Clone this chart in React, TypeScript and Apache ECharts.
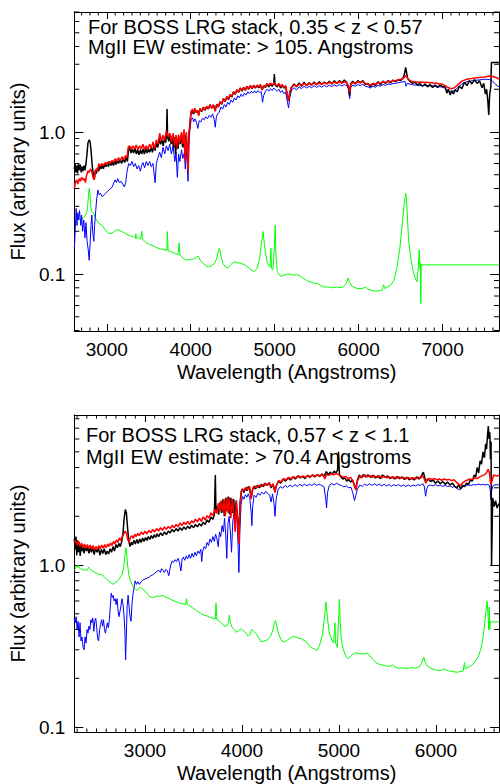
import React, { useEffect, useRef } from "react";
import * as echarts from "echarts";

const FONT = '"Liberation Sans", Arial, Helvetica, sans-serif';

// ---------- tick values ----------
const topXMajor = [3000, 4000, 5000, 6000, 7000];
const botXMajor = [3000, 4000, 5000, 6000];
const yMajor = [0.1, 1];
const yMinor = [0.04, 0.05, 0.06, 0.07, 0.08, 0.09, 0.2, 0.3, 0.4, 0.5, 0.6, 0.7, 0.8, 0.9, 2, 3, 4, 5, 6, 7, 8, 9];

// ---------- texts ----------
const topTitle = ["For BOSS LRG stack, 0.35 < z < 0.57", "MgII EW estimate: > 105. Angstroms"];
const botTitle = ["For BOSS LRG stack, 0.57 < z < 1.1", "MgII EW estimate: > 70.4 Angstroms"];
const xName = "Wavelength (Angstroms)";
const yName = "Flux (arbitrary units)";

// ---------- top panel data [wavelength, flux] ----------
const topBlack = [
  [2613,0.55],[2622,0.60],[2632,0.52],[2642,0.58],[2652,0.51],[2662,0.60],[2672,0.54],[2684,0.59],[2695,0.52],[2706,0.57],[2717,0.53],[2728,0.58],[2740,0.54],[2752,0.60],[2764,0.70],[2776,0.84],[2790,0.88],[2802,0.85],[2814,0.72],[2826,0.58],[2840,0.50],[2852,0.47],[2864,0.54],[2876,0.51],[2890,0.56],[2904,0.53],[2918,0.58],[2932,0.55],[2946,0.59],[2960,0.55],[2975,0.60],[2990,0.57],[3005,0.61],[3020,0.57],[3035,0.62],[3050,0.58],[3065,0.62],[3080,0.58],[3095,0.63],[3110,0.59],[3125,0.64],[3140,0.60],[3158,0.64],[3176,0.60],[3194,0.65],[3212,0.61],[3230,0.66],[3245,0.62],[3258,0.74],[3272,0.78],[3288,0.71],[3304,0.76],[3320,0.71],[3336,0.77],[3352,0.70],[3368,0.75],[3384,0.69],[3400,0.75],[3416,0.70],[3432,0.76],[3448,0.70],[3464,0.77],[3480,0.71],[3496,0.76],[3512,0.72],[3528,0.78],[3544,0.72],[3560,0.80],[3576,0.74],[3592,0.84],[3608,0.78],[3624,0.90],[3640,0.82],[3656,0.88],[3672,0.80],[3688,0.92],[3702,0.84],[3712,1.00],[3718,1.45],[3724,0.92],[3738,0.86],[3752,0.96],[3766,0.82],[3780,0.94],[3794,0.78],[3808,0.92],[3820,0.70],[3834,0.90],[3848,0.76],[3862,0.92],[3876,0.82],[3890,0.96],[3904,0.78],[3918,0.98],[3932,0.66],[3944,0.96],[3956,0.74],[3966,0.62],[3976,0.96],[3986,1.05],
  [4000,1.32],[4012,1.42],[4024,1.36],[4036,1.34],[4050,1.46],[4065,1.37],[4080,1.42],[4095,1.32],[4110,1.46],[4130,1.39],[4150,1.49],[4170,1.42],[4190,1.51],[4210,1.45],[4230,1.56],[4250,1.47],[4270,1.55],[4290,1.42],[4310,1.57],[4330,1.50],[4350,1.63],[4370,1.57],[4390,1.72],[4410,1.64],[4430,1.77],[4450,1.69],[4470,1.84],[4490,1.76],[4510,1.92],[4530,1.84],[4550,1.98],[4570,1.90],[4590,2.04],[4610,1.94],[4630,2.06],[4650,1.96],[4670,2.10],[4690,2.00],[4710,2.12],[4730,2.02],[4750,2.12],[4770,2.04],[4790,2.12],[4810,2.05],[4830,2.14],[4850,1.98],[4870,2.12],[4890,2.06],[4910,2.18],[4930,2.08],[4950,2.18],[4970,2.10],[4988,2.18],[4996,2.56],[5004,2.15],[5030,2.08],[5050,2.18],[5070,2.04],[5090,2.14],[5110,2.04],[5130,2.10],[5150,1.82],[5165,1.66],
  [5180,1.88],[5200,2.05],[5230,2.18],[5260,2.08],[5290,2.22],[5320,2.10],[5350,2.24],[5380,2.12],[5410,2.22],[5440,2.14],[5470,2.25],[5500,2.15],[5530,2.26],[5560,2.16],[5590,2.25],[5620,2.18],[5650,2.28],[5680,2.18],[5710,2.30],[5740,2.20],[5770,2.30],[5800,2.22],[5830,2.32],[5860,2.22],[5880,2.05],[5893,1.80],[5905,2.18],[5930,2.28],[5960,2.18],[5990,2.30],[6020,2.22],[6050,2.30],[6080,2.16],[6110,2.20],[6140,2.08],[6170,2.20],[6200,2.12],[6230,2.26],[6260,2.15],[6290,2.28],[6320,2.20],[6350,2.30],[6380,2.22],[6410,2.32],[6440,2.26],[6470,2.34],[6500,2.30],[6530,2.40],[6545,2.55],[6560,2.85],[6572,2.60],[6585,2.38],[6610,2.28],[6640,2.20],[6670,2.24],[6700,2.14],[6730,2.20],[6760,2.10],[6790,2.18],[6820,2.08],[6850,2.16],[6880,2.06],[6910,2.14],[6940,2.06],[6970,2.15],[7000,2.08],[7030,2.10],[7050,1.88],[7070,2.00],[7090,1.82],[7110,1.95],[7130,1.85],[7150,1.98],[7175,1.92],[7200,2.10],[7230,2.02],[7260,2.24],[7290,2.12],[7320,2.30],[7350,2.18],[7380,2.34],[7410,2.20],[7440,2.30],[7470,2.05],[7490,2.20],[7510,1.85],[7525,2.00],[7540,1.62],[7550,1.32],[7560,1.80],[7575,2.10],[7582,3.09],[7672,3.09]
];

const topRed = [
  [2613,0.40],[2625,0.44],[2640,0.46],[2655,0.43],[2670,0.47],[2685,0.45],[2700,0.48],[2715,0.46],[2730,0.47],[2745,0.44],[2760,0.50],[2775,0.53],[2790,0.52],[2805,0.55],[2820,0.53],[2835,0.48],[2850,0.46],[2862,0.52],[2875,0.55],[2890,0.53],[2905,0.60],[2920,0.57],[2940,0.60],[2960,0.58],[2980,0.61],[3000,0.59],[3020,0.62],[3040,0.60],[3060,0.63],[3080,0.61],[3100,0.65],[3120,0.62],[3140,0.66],[3160,0.63],[3180,0.67],[3200,0.64],[3220,0.68],[3240,0.66],[3255,0.78],[3270,0.80],[3290,0.76],[3310,0.80],[3330,0.76],[3350,0.81],[3370,0.75],[3390,0.80],[3410,0.76],[3430,0.82],[3450,0.75],[3470,0.80],[3490,0.76],[3510,0.82],[3530,0.77],[3550,0.85],[3570,0.76],[3590,0.88],[3610,0.82],[3630,0.98],[3650,0.86],[3670,0.95],[3690,0.88],[3710,1.02],[3730,0.92],[3750,0.98],[3770,0.85],[3790,0.98],[3810,0.80],[3825,0.95],[3840,0.78],[3855,0.96],[3870,0.84],[3890,1.00],[3905,0.82],[3920,1.05],[3934,0.62],[3948,1.00],[3960,0.75],[3970,0.52],[3978,0.98],[3990,1.15],
  [4005,1.40],[4020,1.45],[4035,1.36],[4050,1.47],[4065,1.38],[4080,1.42],[4095,1.30],[4110,1.46],[4130,1.40],[4150,1.50],[4170,1.44],[4190,1.52],[4210,1.46],[4230,1.55],[4250,1.48],[4270,1.56],[4290,1.40],[4310,1.56],[4330,1.52],[4350,1.64],[4370,1.58],[4390,1.72],[4410,1.65],[4430,1.78],[4450,1.70],[4470,1.84],[4490,1.78],[4510,1.92],[4530,1.86],[4550,1.98],[4570,1.92],[4590,2.04],[4610,1.96],[4630,2.06],[4650,1.98],[4670,2.10],[4690,2.02],[4710,2.12],[4730,2.04],[4750,2.14],[4770,2.06],[4790,2.14],[4810,2.08],[4830,2.16],[4850,1.98],[4870,2.12],[4890,2.10],[4910,2.20],[4930,2.12],[4950,2.22],[4970,2.14],[4990,2.22],[5010,2.16],[5030,2.12],[5050,2.20],[5070,2.08],[5090,2.16],[5110,2.06],[5130,2.12],[5150,1.82],[5165,1.65],[5180,1.92],
  [5200,2.08],[5230,2.15],[5260,2.10],[5290,2.18],[5320,2.12],[5350,2.20],[5380,2.14],[5410,2.20],[5440,2.15],[5470,2.22],[5500,2.16],[5530,2.22],[5560,2.17],[5590,2.23],[5620,2.18],[5650,2.24],[5680,2.19],[5710,2.25],[5740,2.20],[5770,2.26],[5800,2.21],[5830,2.26],[5860,2.22],[5880,2.10],[5893,1.90],[5905,2.15],[5930,2.24],[5960,2.20],[5990,2.26],[6020,2.22],[6050,2.27],[6080,2.20],[6110,2.18],[6140,2.14],[6170,2.20],[6200,2.17],[6230,2.23],[6260,2.20],[6290,2.26],[6320,2.23],[6350,2.28],[6380,2.26],[6410,2.30],[6440,2.30],[6470,2.33],[6500,2.35],[6530,2.38],[6550,2.45],[6565,2.50],[6580,2.40],[6600,2.32],[6630,2.28],[6660,2.26],[6690,2.25],[6720,2.24],[6750,2.25],[6780,2.23],[6810,2.24],[6840,2.22],[6870,2.23],[6900,2.20],[6930,2.21],[6960,2.18],[6990,2.18],[7020,2.14],[7050,2.08],[7080,2.04],[7110,2.02],[7140,2.05],[7170,2.12],[7200,2.20],[7230,2.28],[7260,2.32],[7290,2.35],[7320,2.37],[7350,2.38],[7380,2.40],[7410,2.41],[7440,2.42],[7470,2.43],[7500,2.44],[7530,2.46],[7560,2.48],[7590,2.47],[7620,2.44],[7650,2.40],[7672,2.36]
];

const topBlue = [
  [2613,0.15],[2625,0.21],[2635,0.29],[2645,0.22],[2655,0.27],[2665,0.24],[2675,0.28],[2690,0.22],[2700,0.26],[2712,0.20],[2725,0.24],[2740,0.18],[2752,0.23],[2765,0.17],[2778,0.15],[2790,0.125],[2800,0.16],[2812,0.22],[2822,0.26],[2832,0.20],[2845,0.17],[2855,0.22],[2868,0.28],[2880,0.34],[2895,0.39],[2910,0.36],[2925,0.37],[2945,0.35],[2965,0.36],[2985,0.37],[3005,0.38],[3025,0.39],[3045,0.40],[3065,0.41],[3085,0.44],[3100,0.46],[3115,0.44],[3130,0.47],[3150,0.44],[3170,0.45],[3190,0.43],[3210,0.41],[3225,0.44],[3240,0.52],[3260,0.60],[3280,0.58],[3300,0.62],[3320,0.57],[3340,0.60],[3360,0.55],[3380,0.58],[3400,0.53],[3415,0.58],[3430,0.61],[3450,0.56],[3470,0.62],[3490,0.58],[3510,0.62],[3530,0.57],[3550,0.60],[3565,0.50],[3575,0.44],[3590,0.60],[3610,0.66],[3630,0.72],[3650,0.66],[3670,0.78],[3690,0.70],[3710,0.80],[3730,0.74],[3750,0.82],[3770,0.70],[3790,0.80],[3810,0.62],[3825,0.72],[3840,0.48],[3855,0.70],[3870,0.62],[3890,0.75],[3905,0.65],[3925,0.72],[3935,0.55],[3948,0.73],[3958,0.60],[3968,0.45],[3978,0.80],[3990,1.05],
  [4005,1.22],[4020,1.26],[4035,1.18],[4050,1.24],[4070,1.16],[4085,1.06],[4100,1.20],[4120,1.18],[4140,1.25],[4160,1.22],[4180,1.28],[4200,1.24],[4220,1.31],[4240,1.27],[4260,1.34],[4280,1.22],[4292,1.08],[4305,1.28],[4320,1.34],
  [4340,1.38],[4360,1.50],[4380,1.45],[4400,1.56],[4420,1.50],[4440,1.62],[4460,1.56],[4480,1.68],[4500,1.62],[4520,1.74],[4540,1.68],[4560,1.80],[4580,1.74],[4600,1.85],[4620,1.78],[4640,1.88],[4660,1.82],[4680,1.92],[4700,1.86],[4720,1.94],[4740,1.88],[4760,1.95],[4780,1.88],[4800,1.96],[4820,1.90],[4840,1.92],[4855,1.62],[4868,1.80],[4890,1.94],[4910,2.00],[4930,1.94],[4950,2.02],[4970,1.96],[4990,2.04],[5010,1.98],[5030,1.94],[5050,2.00],[5070,1.90],[5090,1.96],[5110,1.86],[5130,1.92],[5150,1.65],[5165,1.48],[5180,1.75],
  [5200,1.96],[5230,2.05],[5260,1.98],[5290,2.08],[5320,2.02],[5350,2.10],[5380,2.04],[5410,2.10],[5440,2.05],[5470,2.12],[5500,2.06],[5530,2.12],[5560,2.07],[5590,2.13],[5620,2.08],[5650,2.14],[5680,2.09],[5710,2.15],[5740,2.10],[5770,2.16],[5800,2.11],[5830,2.16],[5860,2.12],[5880,2.00],[5893,1.72],[5905,2.05],[5930,2.14],[5960,2.10],[5990,2.16],[6020,2.12],[6050,2.17],[6080,2.10],[6110,2.08],[6140,2.04],[6170,2.10],[6200,2.07],[6230,2.13],[6260,2.10],[6290,2.16],[6320,2.13],[6350,2.18],[6380,2.16],[6410,2.20],[6440,2.20],[6470,2.22],[6500,2.24],[6530,2.26],[6550,2.28],[6565,2.10],[6580,2.20],[6600,2.18],[6630,2.16],[6660,2.14],[6690,2.14],[6720,2.12],[6750,2.13],[6780,2.12],[6810,2.13],[6840,2.11],[6870,2.12],[6900,2.10],[6930,2.11],[6960,2.08],[6990,2.08],[7020,2.04],[7050,1.98],[7080,1.94],[7110,1.93],[7140,1.96],[7170,2.03],[7200,2.10],[7230,2.18],[7260,2.22],[7290,2.26],[7320,2.28],[7350,2.29],[7380,2.31],[7410,2.32],[7440,2.33],[7470,2.34],[7500,2.35],[7530,2.35],[7560,2.34],[7590,2.30],[7620,2.20],[7650,2.12],[7672,2.08]
];

const topGreen = [
  [2704,0.24],[2720,0.25],[2740,0.255],[2760,0.27],[2772,0.30],[2782,0.36],[2790,0.40],[2798,0.37],[2808,0.30],[2820,0.275],[2842,0.268],[2870,0.245],[2901,0.228],[2941,0.221],[2980,0.205],[3020,0.194],[3050,0.193],[3080,0.198],[3110,0.204],[3139,0.205],[3170,0.200],[3200,0.196],[3240,0.190],[3280,0.186],[3320,0.183],[3340,0.179],[3346,0.192],[3352,0.179],[3380,0.180],[3405,0.176],[3418,0.200],[3425,0.177],[3450,0.170],[3480,0.165],[3510,0.161],[3534,0.160],[3570,0.156],[3600,0.153],[3640,0.150],[3680,0.149],[3715,0.146],[3722,0.199],[3730,0.146],[3760,0.144],[3790,0.141],[3820,0.139],[3850,0.137],[3862,0.166],[3872,0.136],[3890,0.133],[3910,0.129],[3948,0.125],[3975,0.126],[4000,0.127],[4040,0.128],[4070,0.131],[4087,0.134],[4110,0.126],[4150,0.118],[4205,0.112],[4240,0.114],[4280,0.118],[4310,0.128],[4330,0.145],[4343,0.152],[4360,0.134],[4385,0.118],[4420,0.112],[4442,0.110],[4480,0.117],[4518,0.122],[4560,0.120],[4600,0.119],[4640,0.116],[4680,0.112],[4720,0.107],[4758,0.104],[4790,0.110],[4820,0.128],[4845,0.170],[4862,0.199],[4878,0.160],[4900,0.130],[4916,0.119],[4945,0.112],[4955,0.152],[4962,0.109],[4979,0.107],[4995,0.150],[5006,0.221],[5014,0.140],[5030,0.104],[5074,0.096],[5110,0.098],[5150,0.100],[5172,0.100],[5220,0.098],[5260,0.099],[5291,0.098],[5330,0.094],[5380,0.090],[5421,0.088],[5470,0.086],[5509,0.086],[5550,0.083],[5590,0.081],[5640,0.081],[5690,0.080],[5740,0.081],[5790,0.080],[5830,0.082],[5855,0.086],[5875,0.094],[5892,0.088],[5920,0.082],[5982,0.079],[6040,0.079],[6081,0.081],[6110,0.078],[6176,0.076],[6230,0.076],[6280,0.077],[6298,0.084],[6310,0.079],[6377,0.083],[6420,0.090],[6457,0.112],[6490,0.150],[6516,0.215],[6540,0.30],[6555,0.35],[6562,0.37],[6572,0.32],[6595,0.174],[6625,0.125],[6654,0.101],[6694,0.088],[6710,0.110],[6716,0.130],[6721,0.148],[6727,0.118],[6733,0.108],[6737,0.120],[6741,0.062],[6745,0.116],[7672,0.116]
];

// ---------- bottom panel data [wavelength, flux] ----------
const botBlack = [
  [2271,1.45],[2280,1.25],[2288,1.50],[2296,1.15],[2305,1.42],[2314,1.20],[2322,1.38],[2332,1.14],[2342,1.35],[2352,1.22],[2362,1.30],[2372,1.18],[2385,1.32],[2398,1.22],[2410,1.30],[2422,1.18],[2435,1.28],[2448,1.20],[2460,1.30],[2475,1.16],[2490,1.26],[2505,1.20],[2520,1.28],[2535,1.15],[2550,1.25],[2565,1.18],[2580,1.26],[2595,1.16],[2610,1.22],[2625,1.17],[2640,1.26],[2655,1.20],[2670,1.30],[2685,1.22],[2700,1.34],[2715,1.28],[2730,1.36],[2745,1.30],[2760,1.40],[2772,1.55],[2785,1.95],[2797,2.20],[2808,2.10],[2820,1.70],[2832,1.42],[2845,1.30],[2858,1.38],[2870,1.33],[2885,1.42],[2900,1.35],[2915,1.44],[2930,1.36],[2945,1.45],[2960,1.38],[2975,1.47],[2990,1.40],[3005,1.48],[3020,1.42],[3035,1.50],[3050,1.44],[3065,1.52],[3080,1.46],[3095,1.54],[3110,1.48],[3125,1.56],[3140,1.50],[3160,1.58],[3180,1.52],[3200,1.60],[3220,1.54],[3240,1.62],[3260,1.58],[3280,1.66],[3300,1.60],[3320,1.68],[3340,1.62],[3360,1.70],[3380,1.64],[3400,1.72],[3420,1.66],[3440,1.74],[3460,1.68],[3480,1.76],[3500,1.70],[3520,1.78],[3540,1.72],[3560,1.80],[3580,1.74],[3600,1.84],[3620,1.78],[3640,1.90],[3660,1.84],[3680,1.98],[3700,1.92],[3715,2.05],[3725,3.60],[3732,2.10],[3745,2.30],[3760,2.05],[3775,2.45],[3790,2.10],[3805,2.55],[3818,2.00],[3832,2.60],[3845,2.15],[3858,2.65],[3872,2.05],[3885,2.60],[3900,2.10],[3915,2.55],[3928,1.75],[3940,2.50],[3955,1.95],[3968,1.55],[3980,2.40],[3992,2.85],
  [4005,2.95],[4020,2.80],[4035,3.00],[4050,2.88],[4065,3.05],[4080,2.92],[4095,2.60],[4105,2.85],[4120,3.05],[4140,2.95],[4160,3.10],[4180,3.00],[4200,3.15],[4220,3.05],[4240,3.20],[4260,3.10],[4280,3.22],[4300,3.00],[4320,3.15],[4340,2.85],[4355,3.10],[4375,3.30],[4400,3.20],[4425,3.40],[4450,3.30],[4475,3.45],[4500,3.35],[4525,3.50],[4550,3.40],[4575,3.55],[4600,3.45],[4625,3.52],[4650,3.42],[4675,3.58],[4700,3.48],[4725,3.60],[4750,3.50],[4775,3.62],[4800,3.52],[4825,3.65],[4850,3.55],[4870,3.78],[4890,3.60],[4910,3.75],[4930,3.62],[4950,3.80],[4970,3.70],[4985,3.85],[4995,5.00],[5005,3.60],[5020,3.50],[5040,3.40],[5060,3.45],[5080,3.30],[5100,3.38],[5120,3.25],[5140,3.35],[5160,3.10],[5175,2.95],[5190,3.35],[5210,3.60],[5230,3.45],[5250,3.62],[5275,3.50],[5300,3.60],[5325,3.48],[5350,3.58],[5375,3.45],[5400,3.55],[5425,3.42],[5450,3.60],[5475,3.48],[5500,3.55],[5525,3.42],[5550,3.50],[5575,3.40],[5600,3.52],[5625,3.42],[5650,3.50],[5675,3.38],[5700,3.48],[5725,3.36],[5750,3.45],[5775,3.35],[5800,3.50],[5825,3.40],[5850,3.55],[5870,3.75],[5885,3.45],[5900,3.30],[5920,3.40],[5945,3.28],[5970,3.35],[5995,3.20],[6020,3.30],[6045,3.18],[6070,3.28],[6095,3.15],[6120,3.25],[6145,3.12],[6170,3.20],[6195,3.05],[6215,3.00],[6235,3.12],[6255,2.95],[6275,3.10],[6295,3.05],[6315,3.20],[6335,3.15],[6355,3.35],[6375,3.30],[6395,3.60],[6410,3.50],[6425,4.00],[6440,3.70],[6455,4.40],[6470,4.20],[6485,5.00],[6500,4.60],[6512,5.60],[6522,5.20],[6532,6.40],[6540,7.20],[6548,6.00],[6555,6.60],[6562,4.50],[6568,5.80],[6573,1.00],[6580,1.00],[6585,2.60],[6600,2.30],[6615,2.50],[6630,2.25],[6650,2.40]
];

const botRed = [
  [2271,1.38],[2285,1.42],[2300,1.33],[2315,1.40],[2330,1.30],[2345,1.37],[2360,1.28],[2375,1.35],[2390,1.27],[2405,1.34],[2420,1.26],[2435,1.33],[2450,1.25],[2465,1.32],[2480,1.24],[2495,1.30],[2510,1.25],[2525,1.32],[2540,1.26],[2555,1.33],[2570,1.27],[2585,1.34],[2600,1.28],[2615,1.35],[2630,1.30],[2645,1.37],[2660,1.32],[2675,1.40],[2690,1.35],[2705,1.43],[2720,1.38],[2735,1.47],[2750,1.42],[2765,1.50],[2780,1.55],[2795,1.62],[2808,1.58],[2820,1.45],[2835,1.38],[2850,1.48],[2865,1.52],[2880,1.46],[2895,1.55],[2910,1.50],[2925,1.57],[2940,1.52],[2960,1.60],[2980,1.54],[3000,1.62],[3020,1.56],[3040,1.64],[3060,1.58],[3080,1.66],[3100,1.60],[3120,1.68],[3140,1.62],[3160,1.70],[3180,1.64],[3200,1.72],[3220,1.66],[3240,1.73],[3260,1.68],[3280,1.76],[3300,1.70],[3320,1.78],[3340,1.72],[3360,1.82],[3380,1.75],[3400,1.84],[3420,1.78],[3440,1.86],[3460,1.78],[3480,1.88],[3500,1.82],[3520,1.92],[3540,1.85],[3560,1.95],[3580,1.86],[3600,1.98],[3620,1.90],[3640,2.02],[3660,1.95],[3680,2.10],[3700,2.02],[3720,2.20],[3740,2.08],[3755,2.40],[3770,2.15],[3785,2.50],[3800,2.12],[3815,2.55],[3828,2.00],[3842,2.60],[3856,2.10],[3870,2.62],[3885,1.95],[3900,2.55],[3915,2.10],[3930,1.60],[3942,2.50],[3955,1.85],[3968,1.35],[3980,2.30],[3992,2.80],
  [4005,2.95],[4020,2.88],[4040,3.02],[4060,2.92],[4080,3.05],[4095,2.55],[4110,2.95],[4130,3.08],[4155,3.00],[4180,3.12],[4205,3.05],[4230,3.18],[4255,3.10],[4280,3.22],[4300,3.05],[4320,3.18],[4340,2.80],[4355,3.10],[4380,3.32],[4405,3.25],[4430,3.42],[4455,3.35],[4480,3.48],[4505,3.40],[4530,3.52],[4555,3.44],[4580,3.56],[4605,3.48],[4630,3.55],[4655,3.46],[4680,3.58],[4705,3.50],[4730,3.60],[4755,3.52],[4780,3.62],[4805,3.55],[4830,3.64],[4855,3.40],[4870,3.62],[4895,3.58],[4920,3.66],[4945,3.60],[4970,3.68],[4995,3.62],[5020,3.55],[5045,3.48],[5070,3.52],[5095,3.42],[5120,3.48],[5145,3.30],[5160,3.05],[5175,2.90],[5190,3.30],[5215,3.55],[5240,3.48],[5265,3.60],[5290,3.50],[5315,3.58],[5340,3.48],[5365,3.56],[5390,3.46],[5415,3.55],[5440,3.45],[5465,3.54],[5490,3.46],[5515,3.52],[5540,3.44],[5565,3.50],[5590,3.42],[5615,3.50],[5640,3.44],[5665,3.48],[5690,3.40],[5715,3.48],[5740,3.40],[5765,3.46],[5790,3.40],[5815,3.48],[5840,3.44],[5865,3.55],[5880,3.40],[5895,3.20],[5910,3.38],[5935,3.42],[5960,3.38],[5985,3.42],[6010,3.36],[6035,3.40],[6060,3.34],[6085,3.40],[6110,3.35],[6135,3.38],[6160,3.32],[6185,3.36],[6210,3.25],[6235,3.15],[6255,3.10],[6275,3.22],[6300,3.30],[6325,3.35],[6350,3.40],[6375,3.38],[6400,3.45],[6425,3.42],[6450,3.50],[6475,3.55],[6500,3.62],[6520,3.70],[6538,3.90],[6550,3.75],[6565,3.15],[6578,3.30],[6595,3.60],[6620,3.55],[6650,3.58]
];

const botBlue = [
  [2271,0.46],[2280,0.44],[2290,0.48],[2300,0.40],[2310,0.45],[2320,0.36],[2330,0.44],[2340,0.34],[2350,0.36],[2362,0.31],[2372,0.30],[2382,0.36],[2392,0.33],[2402,0.40],[2412,0.38],[2422,0.42],[2432,0.40],[2442,0.46],[2452,0.44],[2462,0.47],[2472,0.39],[2482,0.45],[2492,0.47],[2502,0.41],[2512,0.35],[2522,0.34],[2532,0.40],[2542,0.43],[2552,0.46],[2562,0.42],[2572,0.46],[2582,0.40],[2592,0.38],[2602,0.41],[2612,0.44],[2622,0.41],[2632,0.46],[2642,0.55],[2652,0.67],[2662,0.63],[2672,0.65],[2682,0.60],[2692,0.62],[2702,0.57],[2712,0.62],[2722,0.52],[2732,0.48],[2742,0.52],[2752,0.56],[2762,0.62],[2772,0.58],[2782,0.50],[2792,0.40],[2800,0.26],[2808,0.38],[2816,0.56],[2826,0.65],[2836,0.55],[2846,0.48],[2856,0.45],[2866,0.58],[2876,0.66],[2886,0.72],[2898,0.80],[2912,0.76],[2925,0.79],[2940,0.76],[2960,0.79],[2980,0.81],[3000,0.82],[3020,0.83],[3040,0.84],[3060,0.86],[3080,0.87],[3100,0.89],[3120,0.91],[3140,0.93],[3160,0.90],[3170,0.95],[3185,0.93],[3200,0.90],[3215,0.94],[3230,0.92],[3245,0.86],[3255,0.93],[3265,1.00],[3280,1.06],[3295,1.04],[3310,1.08],[3325,1.05],[3340,1.10],[3355,1.04],[3370,0.92],[3382,1.08],[3395,1.12],[3410,1.07],[3425,1.14],[3440,1.09],[3455,1.16],[3470,1.10],[3485,1.18],[3500,1.12],[3515,1.20],[3530,1.14],[3545,1.22],[3560,1.18],[3575,1.25],[3585,1.05],[3595,1.22],[3610,1.30],[3625,1.26],[3640,1.38],[3655,1.32],[3670,1.45],[3685,1.38],[3700,1.50],[3715,1.40],[3728,1.55],[3742,1.45],[3755,1.30],[3768,1.60],[3780,1.50],[3795,1.75],[3808,1.60],[3820,1.95],[3832,1.55],[3843,1.10],[3855,1.80],[3868,2.00],[3880,1.60],[3892,1.20],[3905,1.85],[3918,2.10],[3930,1.70],[3945,2.15],[3958,1.40],[3968,0.90],[3978,1.60],[3990,2.35],
  [4005,2.65],[4020,2.55],[4035,2.72],[4050,2.62],[4065,2.75],[4080,2.60],[4095,2.10],[4102,1.75],[4110,2.30],[4125,2.70],[4145,2.62],[4165,2.78],[4185,2.70],[4205,2.82],[4225,2.74],[4245,2.85],[4265,2.76],[4285,2.70],[4300,2.45],[4315,2.75],[4330,2.40],[4340,2.00],[4352,2.55],[4370,2.90],[4395,3.05],[4420,2.98],[4445,3.10],[4470,3.02],[4495,3.12],[4520,3.04],[4545,3.14],[4570,3.06],[4595,3.15],[4620,3.08],[4645,3.16],[4670,3.08],[4695,3.16],[4720,3.10],[4745,3.18],[4770,3.10],[4795,3.16],[4820,3.10],[4845,3.05],[4862,2.60],[4872,2.25],[4882,2.80],[4900,3.10],[4925,3.18],[4950,3.12],[4975,3.20],[5000,3.14],[5025,3.10],[5050,3.04],[5075,3.08],[5100,3.00],[5125,3.02],[5145,2.75],[5160,2.50],[5175,2.70],[5190,2.95],[5215,3.12],[5240,3.06],[5265,3.16],[5290,3.10],[5315,3.18],[5340,3.10],[5365,3.18],[5390,3.10],[5415,3.16],[5440,3.08],[5465,3.15],[5490,3.08],[5515,3.14],[5540,3.06],[5565,3.14],[5590,3.08],[5615,3.14],[5640,3.06],[5665,3.12],[5690,3.06],[5715,3.12],[5740,3.06],[5765,3.12],[5790,3.08],[5815,3.14],[5840,3.10],[5865,3.18],[5880,3.05],[5893,2.66],[5905,2.95],[5920,3.10],[5945,3.12],[5970,3.08],[5995,3.14],[6020,3.08],[6045,3.12],[6070,3.06],[6095,3.10],[6120,3.05],[6145,3.08],[6170,3.02],[6195,3.06],[6220,2.95],[6245,2.92],[6265,3.00],[6290,3.08],[6315,3.10],[6340,3.12],[6365,3.10],[6390,3.14],[6415,3.12],[6440,3.16],[6465,3.12],[6490,3.15],[6515,3.12],[6535,3.15],[6550,3.10],[6560,2.90],[6566,2.53],[6575,2.90],[6590,3.10],[6620,3.14],[6650,3.12]
];

const botGreen = [
  [2271,0.93],[2282,0.95],[2292,0.99],[2300,0.97],[2312,1.00],[2320,0.96],[2335,0.95],[2350,0.94],[2365,0.93],[2380,0.94],[2395,0.92],[2410,0.95],[2420,0.97],[2430,0.95],[2445,0.93],[2460,0.92],[2480,0.90],[2500,0.89],[2520,0.88],[2540,0.87],[2556,0.88],[2575,0.85],[2600,0.82],[2625,0.80],[2645,0.78],[2660,0.77],[2675,0.76],[2690,0.78],[2710,0.79],[2730,0.81],[2750,0.85],[2765,0.88],[2780,0.97],[2792,1.15],[2802,1.28],[2810,1.18],[2820,1.00],[2835,0.86],[2850,0.80],[2865,0.76],[2880,0.73],[2900,0.71],[2920,0.70],[2940,0.72],[2955,0.73],[2975,0.71],[3000,0.69],[3025,0.66],[3050,0.64],[3075,0.63],[3100,0.635],[3125,0.645],[3150,0.64],[3175,0.65],[3200,0.64],[3225,0.63],[3250,0.62],[3275,0.61],[3300,0.60],[3320,0.595],[3345,0.585],[3370,0.58],[3400,0.575],[3420,0.57],[3428,0.62],[3436,0.57],[3460,0.56],[3490,0.545],[3520,0.53],[3550,0.515],[3580,0.50],[3610,0.49],[3640,0.485],[3670,0.475],[3700,0.47],[3725,0.465],[3732,0.58],[3740,0.46],[3770,0.45],[3800,0.43],[3820,0.42],[3840,0.42],[3860,0.44],[3870,0.49],[3880,0.44],[3900,0.41],[3920,0.40],[3940,0.385],[3960,0.39],[3990,0.405],[4010,0.395],[4040,0.38],[4060,0.365],[4080,0.37],[4100,0.40],[4120,0.39],[4150,0.375],[4180,0.35],[4200,0.335],[4230,0.34],[4260,0.345],[4290,0.36],[4315,0.39],[4335,0.44],[4345,0.455],[4360,0.42],[4380,0.37],[4410,0.34],[4440,0.335],[4470,0.345],[4500,0.355],[4525,0.362],[4550,0.36],[4575,0.355],[4600,0.352],[4630,0.345],[4655,0.34],[4680,0.325],[4710,0.31],[4740,0.305],[4770,0.296],[4800,0.32],[4830,0.37],[4850,0.47],[4865,0.59],[4880,0.48],[4900,0.38],[4925,0.345],[4945,0.33],[4958,0.44],[4966,0.33],[4983,0.31],[4995,0.45],[5005,0.615],[5012,0.45],[5025,0.34],[5045,0.30],[5070,0.275],[5090,0.265],[5110,0.27],[5140,0.28],[5170,0.288],[5200,0.285],[5230,0.283],[5260,0.282],[5290,0.287],[5320,0.275],[5350,0.262],[5380,0.25],[5410,0.245],[5440,0.242],[5470,0.24],[5500,0.238],[5530,0.237],[5550,0.242],[5575,0.236],[5600,0.232],[5630,0.231],[5660,0.232],[5690,0.23],[5720,0.231],[5750,0.233],[5780,0.231],[5810,0.233],[5840,0.24],[5860,0.255],[5875,0.27],[5890,0.25],[5910,0.238],[5940,0.232],[5970,0.228],[6000,0.225],[6030,0.223],[6060,0.224],[6085,0.229],[6100,0.226],[6130,0.222],[6160,0.221],[6190,0.219],[6220,0.218],[6250,0.22],[6280,0.222],[6295,0.25],[6302,0.228],[6320,0.232],[6345,0.237],[6370,0.24],[6395,0.25],[6420,0.262],[6440,0.275],[6460,0.30],[6480,0.34],[6500,0.42],[6515,0.52],[6528,0.60],[6538,0.48],[6545,0.40],[6550,0.55],[6555,0.40],[6560,0.446],[6650,0.446]
];

// ---------- layout ----------
const panels = [
  {
    grid: { left: 72, top: 12, width: 427, height: 319 },
    xRange: [2613, 7672], yRange: [0.0397, 7.0], xMajor: topXMajor,
    title: topTitle, titleX: 88, titleY: [27, 47],
    lines: [topGreen, topBlue, topBlack, topRed],
  },
  {
    grid: { left: 72, top: 415, width: 427, height: 318 },
    xRange: [2271, 6650], yRange: [0.0932, 8.44], xMajor: botXMajor,
    title: botTitle, titleX: 86, titleY: [434.5, 456.5],
    lines: [botGreen, botBlue, botBlack, botRed],
  },
];
const lineColors = ["#00ff00", "#0000ff", "#000000", "#ff0000"];
const lineWidths = [1, 1, 1.5, 1.5];

function xMinors(min: number, max: number) {
  const out: number[] = [];
  for (let v = Math.ceil(min / 100) * 100; v <= max; v += 100) if (v % 1000 !== 0) out.push(v);
  return out;
}

const TICK = { stroke: "#000", lineWidth: 1 };

function xTickSeries(xi: number, yi: number, vals: number[], y0: number, len: number) {
  return {
    type: "custom", xAxisIndex: xi, yAxisIndex: yi, silent: true, clip: false, z: 5,
    data: vals.map((v) => [v, y0]),
    renderItem: (params: any, api: any) => {
      const cs = params.coordSys;
      const p = api.coord([api.value(0), api.value(1)]);
      const b = cs.y + cs.height;
      return {
        type: "group",
        children: [
          { type: "line", shape: { x1: p[0], y1: b, x2: p[0], y2: b - len }, style: TICK },
          { type: "line", shape: { x1: p[0], y1: cs.y, x2: p[0], y2: cs.y + len }, style: TICK },
        ],
      };
    },
  };
}

function yTickSeries(xi: number, yi: number, vals: number[], x0: number, len: number) {
  return {
    type: "custom", xAxisIndex: xi, yAxisIndex: yi, silent: true, clip: false, z: 5,
    data: vals.map((v) => [x0, v]),
    renderItem: (params: any, api: any) => {
      const cs = params.coordSys;
      const p = api.coord([api.value(0), api.value(1)]);
      const r = cs.x + cs.width;
      return {
        type: "group",
        children: [
          { type: "line", shape: { x1: cs.x, y1: p[1], x2: cs.x + len, y2: p[1] }, style: TICK },
          { type: "line", shape: { x1: r, y1: p[1], x2: r - len, y2: p[1] }, style: TICK },
        ],
      };
    },
  };
}

function buildOption() {
  const grid: any[] = [];
  const xAxis: any[] = [];
  const yAxis: any[] = [];
  const series: any[] = [];
  const graphic: any[] = [];
  const tickStyle = { color: "#000", width: 1 };
  panels.forEach((p, gi) => {
    grid.push({ ...p.grid, containLabel: false });
    const xb = { type: "value", gridIndex: gi, min: p.xRange[0], max: p.xRange[1], splitLine: { show: false }, axisLabel: { show: false } };
    const xi = xAxis.length;
    xAxis.push({
      ...xb, position: "bottom",
      axisLine: { show: true, onZero: false, lineStyle: tickStyle },
      axisTick: { show: true, inside: true, length: 7, customValues: p.xMajor, lineStyle: tickStyle },
      axisLabel: { show: true, customValues: p.xMajor, margin: 9, fontSize: 19, color: "#000", fontFamily: FONT, formatter: (v: number) => String(Math.round(v)) },
      name: xName, nameLocation: "middle", nameGap: 31,
      nameTextStyle: { fontSize: 20, color: "#000", fontFamily: FONT },
    });
    xAxis.push({ ...xb, position: "top", axisLine: { show: true, onZero: false, lineStyle: tickStyle }, axisTick: { show: true, inside: true, length: 7, customValues: p.xMajor, lineStyle: tickStyle } });

    const yb = { type: "log", logBase: 10, gridIndex: gi, min: p.yRange[0], max: p.yRange[1], splitLine: { show: false }, axisLabel: { show: false } };
    const yi = yAxis.length;
    yAxis.push({
      ...yb, position: "left",
      axisLine: { show: true, onZero: false, lineStyle: tickStyle },
      axisTick: { show: true, inside: true, length: 9, customValues: yMajor, lineStyle: tickStyle },
      axisLabel: { show: true, customValues: yMajor, margin: 9, fontSize: 19, color: "#000", fontFamily: FONT, formatter: (v: number) => Number(v).toFixed(1) },
      name: yName, nameLocation: "middle", nameGap: 46,
      nameTextStyle: { fontSize: 20, color: "#000", fontFamily: FONT },
    });
    yAxis.push({ ...yb, position: "right", axisLine: { show: true, onZero: false, lineStyle: tickStyle }, axisTick: { show: true, inside: true, length: 9, customValues: yMajor, lineStyle: tickStyle } });

    p.lines.forEach((d, k) => {
      series.push({
        type: "line", xAxisIndex: xi, yAxisIndex: yi, data: d, showSymbol: false, symbol: "none",
        lineStyle: { color: lineColors[k], width: lineWidths[k] }, silent: true, clip: true,
      });
    });
    const minors = xMinors(p.xRange[0], p.xRange[1]);
    const yMin = yMinor.filter((v) => v >= p.yRange[0] && v <= p.yRange[1]);
    series.push(xTickSeries(xi, yi, minors, p.yRange[0], 3.5));
    series.push(yTickSeries(xi, yi, yMin, p.xRange[0], 5));
    p.title.forEach((t, k) => {
      graphic.push({
        type: "text", x: p.titleX, y: p.titleY[k],
        style: { text: t, fontSize: 20, fontFamily: FONT, fill: "#000", align: "left", verticalAlign: "middle" },
      });
    });
  });
  return { animation: false, backgroundColor: "#fff", grid, xAxis, yAxis, series, graphic };
}

export default function App() {
  const ref = useRef<HTMLDivElement>(null);
  useEffect(() => {
    if (!ref.current) return;
    const chart = echarts.init(ref.current, undefined, { renderer: "svg" });
    chart.setOption(buildOption() as any);
    return () => chart.dispose();
  }, []);
  return <div ref={ref} style={{ position: "absolute", left: 0, top: 0, width: 500, height: 784, background: "#fff" }} />;
}
